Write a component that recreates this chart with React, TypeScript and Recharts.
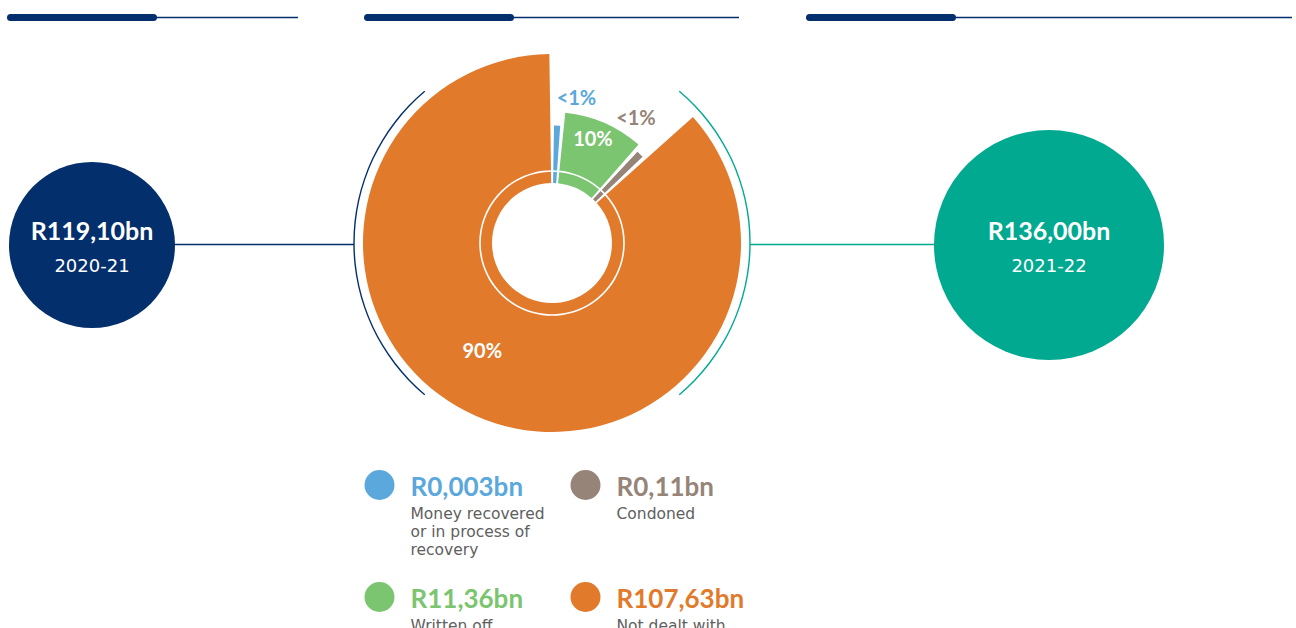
import { PieChart, Pie, Cell } from "recharts";

// irregular expenditure, R billion
const categories = [
  ["Money recovered", "or in process of", "recovery"],
  ["Written off"],
  ["Condoned"],
  ["Not dealt with"],
];
const amountsBn = [0.003, 11.36, 0.11, 107.63];
const shareLabels = ["<1%", "10%", "<1%", "90%"];

const years = ["2020-21", "2021-22"];
const totalsBn = [119.1, 136.0];

const NAVY = "#032f6d";
const TEAL = "#00a98f";
const sliceColors = ["#5ba8dc", "#7bc470", "#968479", "#e27a2c"];
const sliceOuter = [117.5, 131, 125, 189];
// where each % label sits: radius + turn from the slice middle
const labelSpots = [
  { r: 148, turn: -7, fill: sliceColors[0] },
  { r: 113, turn: 2.3, fill: "#fff" },
  { r: 151, turn: 11, fill: sliceColors[2] },
  { r: 128, turn: -9.3, fill: "#fff" },
];
const legendSpots = [
  { x: 379.5, y: 485 },
  { x: 379.5, y: 597 },
  { x: 585.5, y: 485 },
  { x: 585.5, y: 597 },
];

const CX = 552;
const CY = 243;
const RADIAN = Math.PI / 180;
const FONT = "Lato, 'DejaVu Sans', sans-serif";
const SUB_FONT = "'DejaVu Sans', sans-serif";

const pieData = categories.map((lines, i) => ({ name: lines.join(" "), value: amountsBn[i] }));
const one = [{ value: 1 }];

function fmtAmount(v: number) {
  return "R" + String(v).replace(".", ",") + "bn";
}
function fmtTotal(v: number) {
  return "R" + v.toFixed(2).replace(".", ",") + "bn";
}

function renderShareLabel(props: any) {
  const { cx, cy, index } = props;
  const mid = props.midAngle ?? (props.startAngle + props.endAngle) / 2;
  const spot = labelSpots[index];
  const a = (mid + spot.turn) * RADIAN;
  return (
    <text
      x={cx + spot.r * Math.cos(a)}
      y={cy - spot.r * Math.sin(a)}
      fill={spot.fill}
      textAnchor="middle"
      dominantBaseline="central"
      style={{ fontFamily: FONT, fontWeight: 700, fontSize: 20 }}
    >
      {shareLabels[index]}
    </text>
  );
}

export default function App() {
  return (
    <div
      style={{
        position: "absolute",
        left: 0,
        top: 0,
        width: 1296,
        height: 628,
        background: "#fff",
        overflow: "hidden",
      }}
    >
      {/* Background decoration */}
      <svg width={1296} height={628} style={{ position: "absolute", left: 0, top: 0 }}>
        {/* header rules */}
        {[
          [10.5, 153.5, 298],
          [367.5, 510.5, 739],
          [809.5, 952.5, 1292],
        ].map(([a, b, end], i) => (
          <g key={i}>
            <line x1={b} y1={17.5} x2={end} y2={17.5} stroke={NAVY} strokeWidth={1.6} />
            <line x1={a} y1={17.5} x2={b} y2={17.5} stroke={NAVY} strokeWidth={7} strokeLinecap="round" />
          </g>
        ))}

        {/* connectors */}
        <line x1={170} y1={244.5} x2={354} y2={244.5} stroke={NAVY} strokeWidth={1.3} />
        <line x1={750} y1={244.5} x2={940} y2={244.5} stroke={TEAL} strokeWidth={1.3} />

        {/* year totals */}
        <circle cx={92} cy={245} r={83} fill={NAVY} />
        <circle cx={1049} cy={245} r={115} fill={TEAL} />
        {[92, 1049].map((x, i) => (
          <g key={i} style={{ fontFamily: FONT }} fill="#fff" textAnchor="middle">
            <text x={x} y={240} fontSize={25} fontWeight={700}>
              {fmtTotal(totalsBn[i])}
            </text>
            <text x={x} y={271.5} style={{ fontFamily: SUB_FONT }} fontSize={18}>
              {years[i]}
            </text>
          </g>
        ))}

        {/* legend */}
        {categories.map((lines, i) => {
          const p = legendSpots[i];
          return (
            <g key={i} style={{ fontFamily: FONT }}>
              <circle cx={p.x} cy={p.y} r={15} fill={sliceColors[i]} />
              <text x={p.x + 31} y={p.y + 10.5} fontSize={26} fontWeight={700} fill={sliceColors[i]}>
                {fmtAmount(amountsBn[i])}
              </text>
              <text x={p.x + 31} style={{ fontFamily: SUB_FONT }} fontSize={15.5} fill="#606060">
                {lines.map((ln, k) => (
                  <tspan key={k} x={p.x + 31} y={p.y + 33.5 + k * 18.3}>
                    {ln}
                  </tspan>
                ))}
              </text>
            </g>
          );
        })}
      </svg>

      <div style={{ position: "absolute", left: 0, top: 0 }}>
        <PieChart width={1296} height={628} margin={{ top: 0, right: 0, bottom: 0, left: 0 }}>
          {/* year arcs */}
          <Pie
            data={one}
            dataKey="value"
            cx={CX}
            cy={CY}
            startAngle={130}
            endAngle={230}
            innerRadius={197.3}
            outerRadius={198.7}
            fill={NAVY}
            stroke="none"
            isAnimationActive={false}
          />
          <Pie
            data={one}
            dataKey="value"
            cx={CX}
            cy={CY}
            startAngle={-50}
            endAngle={50}
            innerRadius={197.3}
            outerRadius={198.7}
            fill={TEAL}
            stroke="none"
            isAnimationActive={false}
          />

          {/* one pie per slice so each can have its own depth */}
          {[3, 1, 0, 2].map((k, n) => (
            <Pie
              key={k}
              data={pieData}
              dataKey="value"
              cx={CX}
              cy={CY}
              startAngle={89}
              endAngle={-271}
              paddingAngle={1.8}
              minAngle={3}
              innerRadius={60}
              outerRadius={sliceOuter[k]}
              stroke="none"
              label={n === 3 ? renderShareLabel : false}
              labelLine={false}
              isAnimationActive={false}
            >
              {pieData.map((_, i) => (
                <Cell key={i} fill={i === k ? sliceColors[i] : "none"} stroke="none" />
              ))}
            </Pie>
          ))}

          {/* thin inner ring */}
          <Pie
            data={one}
            dataKey="value"
            cx={CX}
            cy={CY}
            startAngle={90}
            endAngle={-270}
            innerRadius={71.2}
            outerRadius={72.8}
            fill="#fff"
            stroke="none"
            isAnimationActive={false}
          />
        </PieChart>
      </div>
    </div>
  );
}
